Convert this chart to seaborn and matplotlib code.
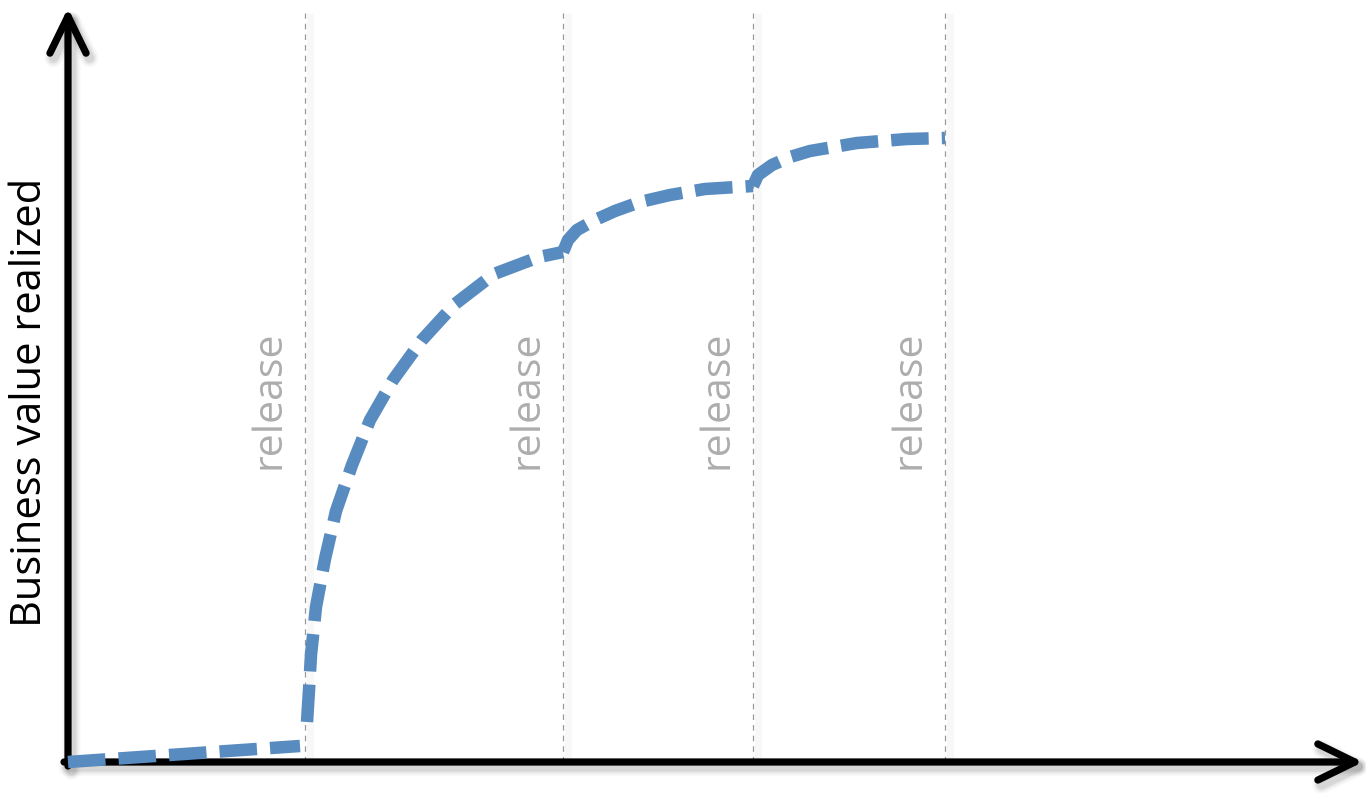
import matplotlib
matplotlib.use("Agg")
import matplotlib.pyplot as plt
import matplotlib.patheffects as pe
import numpy as np
import pandas as pd
import seaborn as sns

# Value curve, one piece per release cycle (time, value in arbitrary units)
seg_before_x = [0.00, 2.32]
seg_before_y = [0.00, 0.16]

seg_r1_x = [2.39, 2.41, 2.43, 2.48, 2.57, 2.68, 2.84, 3.02, 3.25, 3.54, 3.87, 4.26, 4.71, 4.95]
seg_r1_y = [0.40, 0.72, 1.07, 1.55, 2.03, 2.51, 2.97, 3.42, 3.82, 4.22, 4.58, 4.88, 5.05, 5.10]

seg_r2_x = [4.95, 5.00, 5.09, 5.27, 5.47, 5.72, 6.02, 6.37, 6.85]
seg_r2_y = [5.10, 5.22, 5.32, 5.42, 5.51, 5.60, 5.67, 5.73, 5.76]

seg_r3_x = [6.85, 6.90, 7.04, 7.22, 7.42, 7.89, 8.39, 8.77]
seg_r3_y = [5.76, 5.87, 5.97, 6.05, 6.11, 6.19, 6.23, 6.24]

release_x = [2.37, 4.95, 6.85, 8.77]
release_label = "release"
y_label = "Business value realized"

curve = pd.concat(
    [
        pd.DataFrame({"time": seg_before_x, "value": seg_before_y, "segment": 0}),
        pd.DataFrame({"time": seg_r1_x, "value": seg_r1_y, "segment": 1}),
        pd.DataFrame({"time": seg_r2_x, "value": seg_r2_y, "segment": 2}),
        pd.DataFrame({"time": seg_r3_x, "value": seg_r3_y, "segment": 3}),
    ],
    ignore_index=True,
)

sns.set_style("white")
plt.rcParams["font.family"] = ["Open Sans", "DejaVu Sans"]

fig = plt.figure(figsize=(13.66, 7.93), dpi=100)
ax = fig.add_axes([0, 0, 1, 1])
ax.set_xlim(-0.68, 12.98)
ax.set_ylim(-0.31, 7.62)
ax.set_axis_off()

# Release markers: thin dashed verticals with a faint shadow
ax.vlines([x + 0.05 for x in release_x], 0, 7.49, color="#f8f8f8", lw=5, zorder=1)
ax.vlines(release_x, 0, 7.49, color="#9a9a9a", lw=0.9,
          linestyle=(0, (4.5, 4)), zorder=2)
for x in release_x:
    ax.text(x - 0.36, 3.62, release_label, rotation=90, ha="center", va="center",
            fontsize=29.5, color="#adadad", zorder=2)

# Axes drawn as arrows with a soft drop shadow
shadow = [
    pe.Stroke(offset=(2.5, -3.5), linewidth=13, foreground="black", alpha=0.03),
    pe.Stroke(offset=(2.5, -3.5), linewidth=10, foreground="black", alpha=0.05),
    pe.Stroke(offset=(2.5, -3.5), linewidth=7, foreground="black", alpha=0.08),
    pe.Normal(),
]
arrow_kw = dict(arrowstyle="->,head_length=1.33,head_width=0.65", lw=5.2,
                color="black", capstyle="round", joinstyle="round",
                shrinkA=0, shrinkB=0, mutation_scale=20)
a1 = ax.annotate("", xy=(0, 7.54), xytext=(0, -0.04), arrowprops=arrow_kw, zorder=4)
a2 = ax.annotate("", xy=(12.95, 0), xytext=(-0.04, 0), arrowprops=arrow_kw, zorder=4)
for a in (a1, a2):
    a.arrow_patch.set_path_effects(shadow)

# The dashed value curve
sns.lineplot(data=curve, x="time", y="value", units="segment", estimator=None,
             color="#588bbf", lw=9, linestyle=(0, (3.0, 1.05)),
             ax=ax, legend=False, zorder=5)
for line in ax.get_lines():
    line.set_dash_capstyle("butt")
    line.set_solid_joinstyle("round")

fig.text(30 / 1366, 1 - 402 / 793, y_label, rotation=90, ha="center", va="center",
         fontsize=30, color="black")

fig.savefig("out.png", dpi=100)
